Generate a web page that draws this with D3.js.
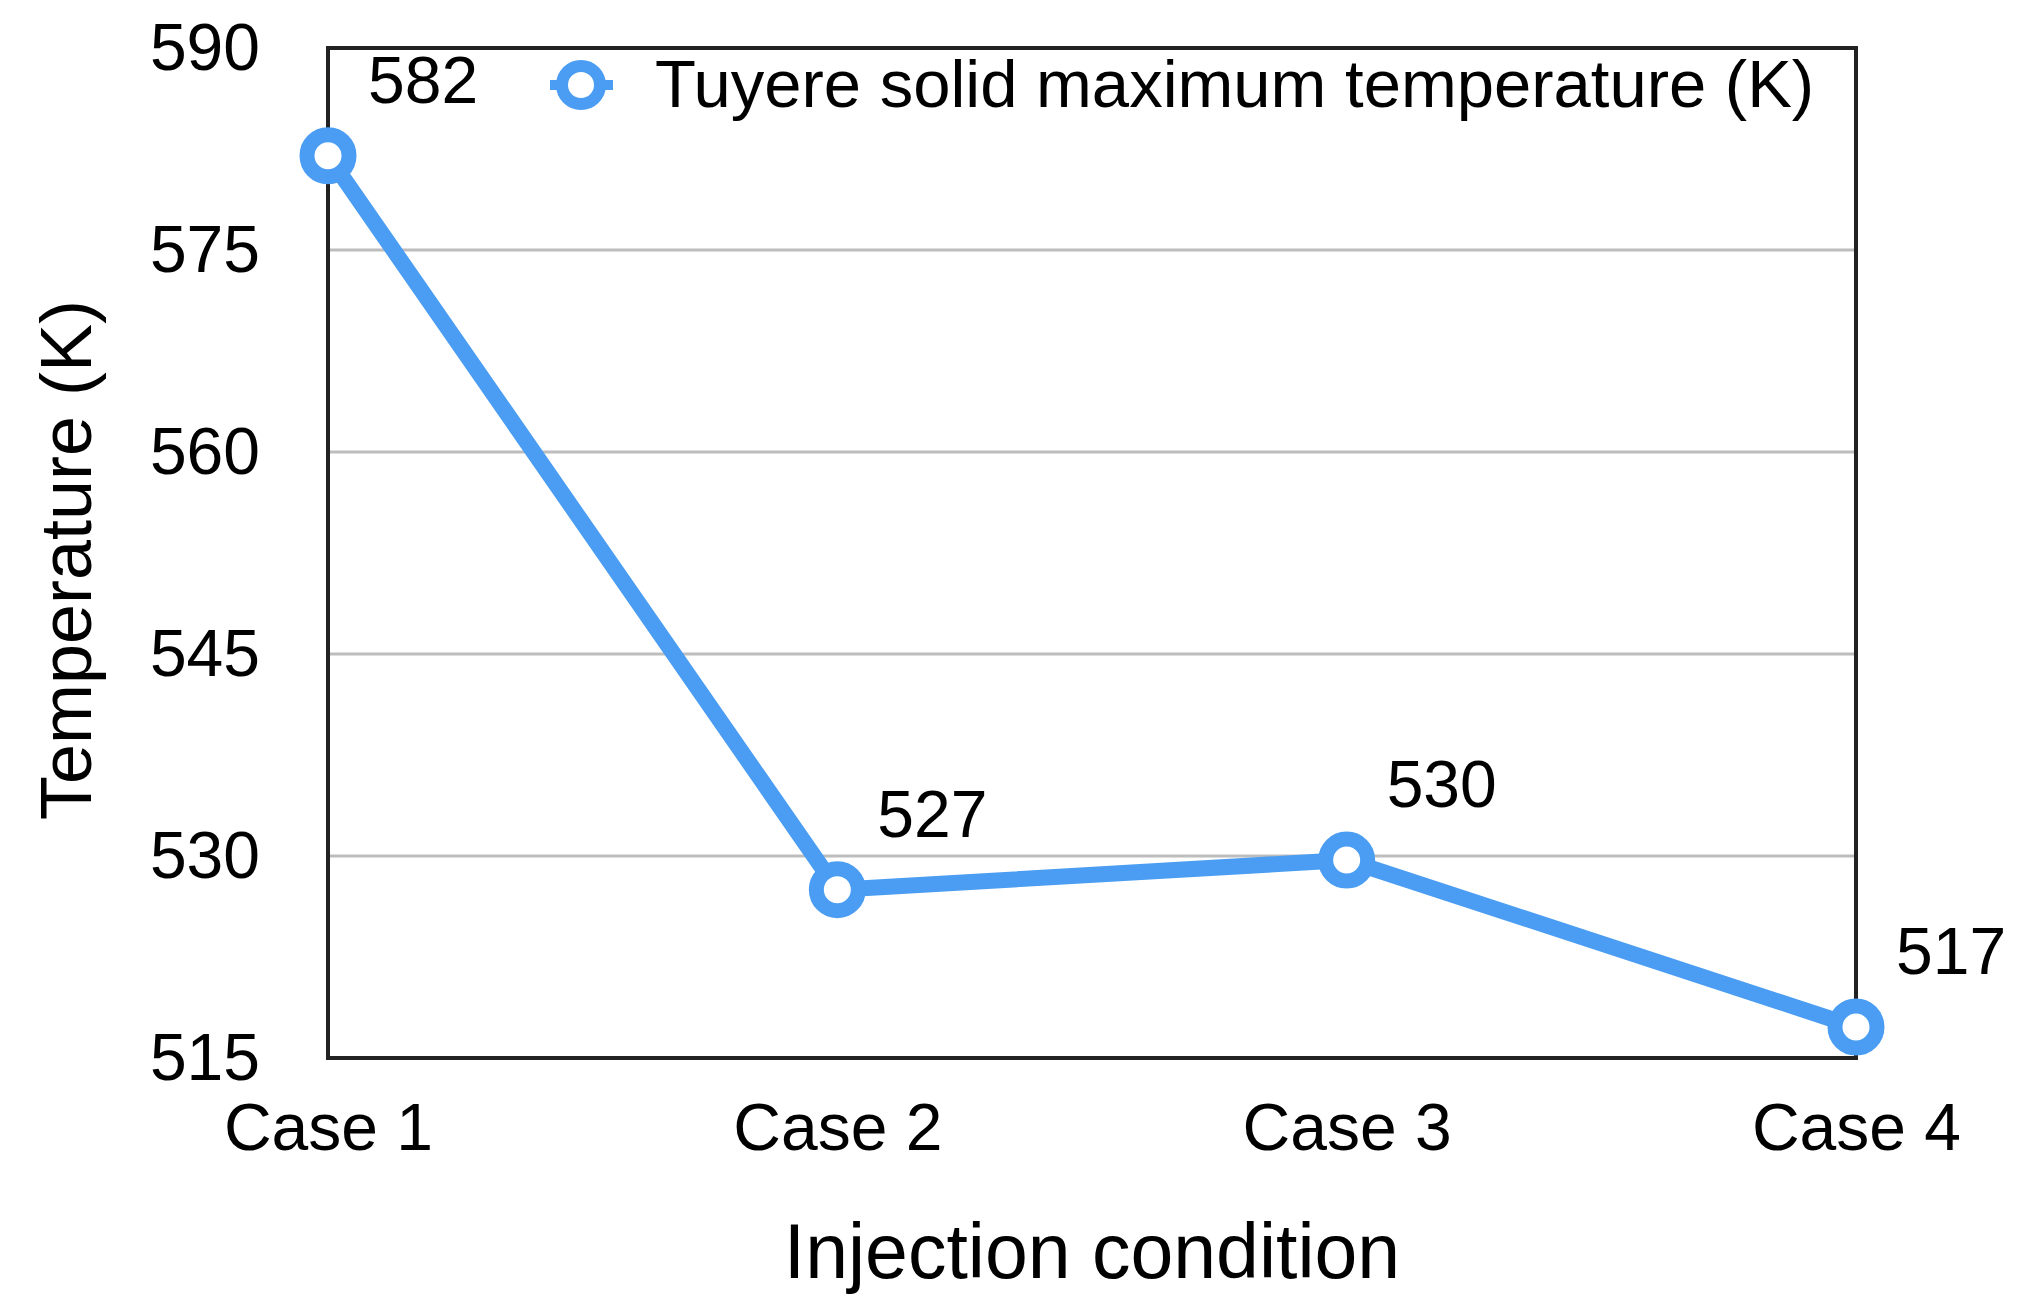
<!DOCTYPE html>
<html>
<head>
<meta charset="utf-8">
<script src="https://cdn.jsdelivr.net/npm/d3@7"></script>
<style>
  html, body { margin: 0; padding: 0; background: #fff; }
  svg text { font-family: "Liberation Sans", Arial, Helvetica, sans-serif; fill: #000; }
</style>
</head>
<body>
<svg id="chart" width="2023" height="1314"></svg>
<script>
const categories = ["Case 1", "Case 2", "Case 3", "Case 4"];
const temperatures = [582, 527.5, 529.7, 517.3];
const valueLabels = ["582", "527", "530", "517"];
const yTicks = [515, 530, 545, 560, 575, 590];
const seriesName = "Tuyere solid maximum temperature (K)";
const xTitle = "Injection condition";
const yTitle = "Temperature (K)";

const W = 2023, H = 1314;
const plot = { left: 328, right: 1856, top: 48, bottom: 1058 };
const blue = "#4a9df2";

const svg = d3.select("#chart");

const x = d3.scalePoint().domain(categories).range([plot.left, plot.right]).padding(0);
const y = d3.scaleLinear().domain([515, 590]).range([plot.bottom, plot.top]);

// gridlines
svg.append("g").selectAll("line")
  .data(yTicks.filter(t => t !== 515))
  .join("line")
  .attr("x1", plot.left).attr("x2", plot.right)
  .attr("y1", d => y(d)).attr("y2", d => y(d))
  .attr("stroke", "#bdbdbd").attr("stroke-width", 3);

// frame
svg.append("rect")
  .attr("x", plot.left).attr("y", plot.top)
  .attr("width", plot.right - plot.left).attr("height", plot.bottom - plot.top)
  .attr("fill", "none").attr("stroke", "#222").attr("stroke-width", 4);

// y axis
const yAxis = svg.append("g")
  .attr("transform", `translate(${plot.left},0)`)
  .call(d3.axisLeft(y).tickValues(yTicks).tickSize(0).tickPadding(68).tickFormat(d3.format("d")));
yAxis.select(".domain").remove();
yAxis.selectAll("text").attr("font-size", 66).attr("font-family", null).attr("fill", "#000");

// x axis
const xAxis = svg.append("g")
  .attr("transform", `translate(0,${plot.bottom})`)
  .call(d3.axisBottom(x).tickSize(0).tickPadding(45));
xAxis.select(".domain").remove();
xAxis.selectAll("text").attr("font-size", 66).attr("font-family", null).attr("fill", "#000");

// axis titles
svg.append("text")
  .attr("x", (plot.left + plot.right) / 2).attr("y", 1278)
  .attr("text-anchor", "middle").attr("font-size", 77)
  .text(xTitle);

svg.append("text")
  .attr("transform", `translate(91,${(plot.top + plot.bottom) / 2 + 7}) rotate(-90)`)
  .attr("text-anchor", "middle").attr("font-size", 72)
  .text(yTitle);

// line
const data = categories.map((c, i) => ({ c, v: temperatures[i], label: valueLabels[i] }));
svg.append("path")
  .datum(data)
  .attr("fill", "none").attr("stroke", blue).attr("stroke-width", 16)
  .attr("stroke-linejoin", "round")
  .attr("d", d3.line().x(d => x(d.c)).y(d => y(d.v)));

// markers
svg.append("g").selectAll("circle")
  .data(data)
  .join("circle")
  .attr("cx", d => x(d.c)).attr("cy", d => y(d.v))
  .attr("r", 21)
  .attr("fill", "#fff").attr("stroke", blue).attr("stroke-width", 15);

// value labels
svg.append("g").selectAll("text")
  .data(data)
  .join("text")
  .attr("x", d => x(d.c) + 40).attr("y", d => y(d.v) - 53)
  .attr("font-size", 66)
  .text(d => d.label);

// legend
const lg = svg.append("g");
lg.append("line").attr("x1", 550).attr("x2", 613).attr("y1", 85).attr("y2", 85)
  .attr("stroke", blue).attr("stroke-width", 10);
lg.append("circle").attr("cx", 581).attr("cy", 85).attr("r", 19)
  .attr("fill", "#fff").attr("stroke", blue).attr("stroke-width", 12);
lg.append("text").attr("x", 655).attr("y", 107).attr("font-size", 67).text(seriesName);
</script>
</body>
</html>
